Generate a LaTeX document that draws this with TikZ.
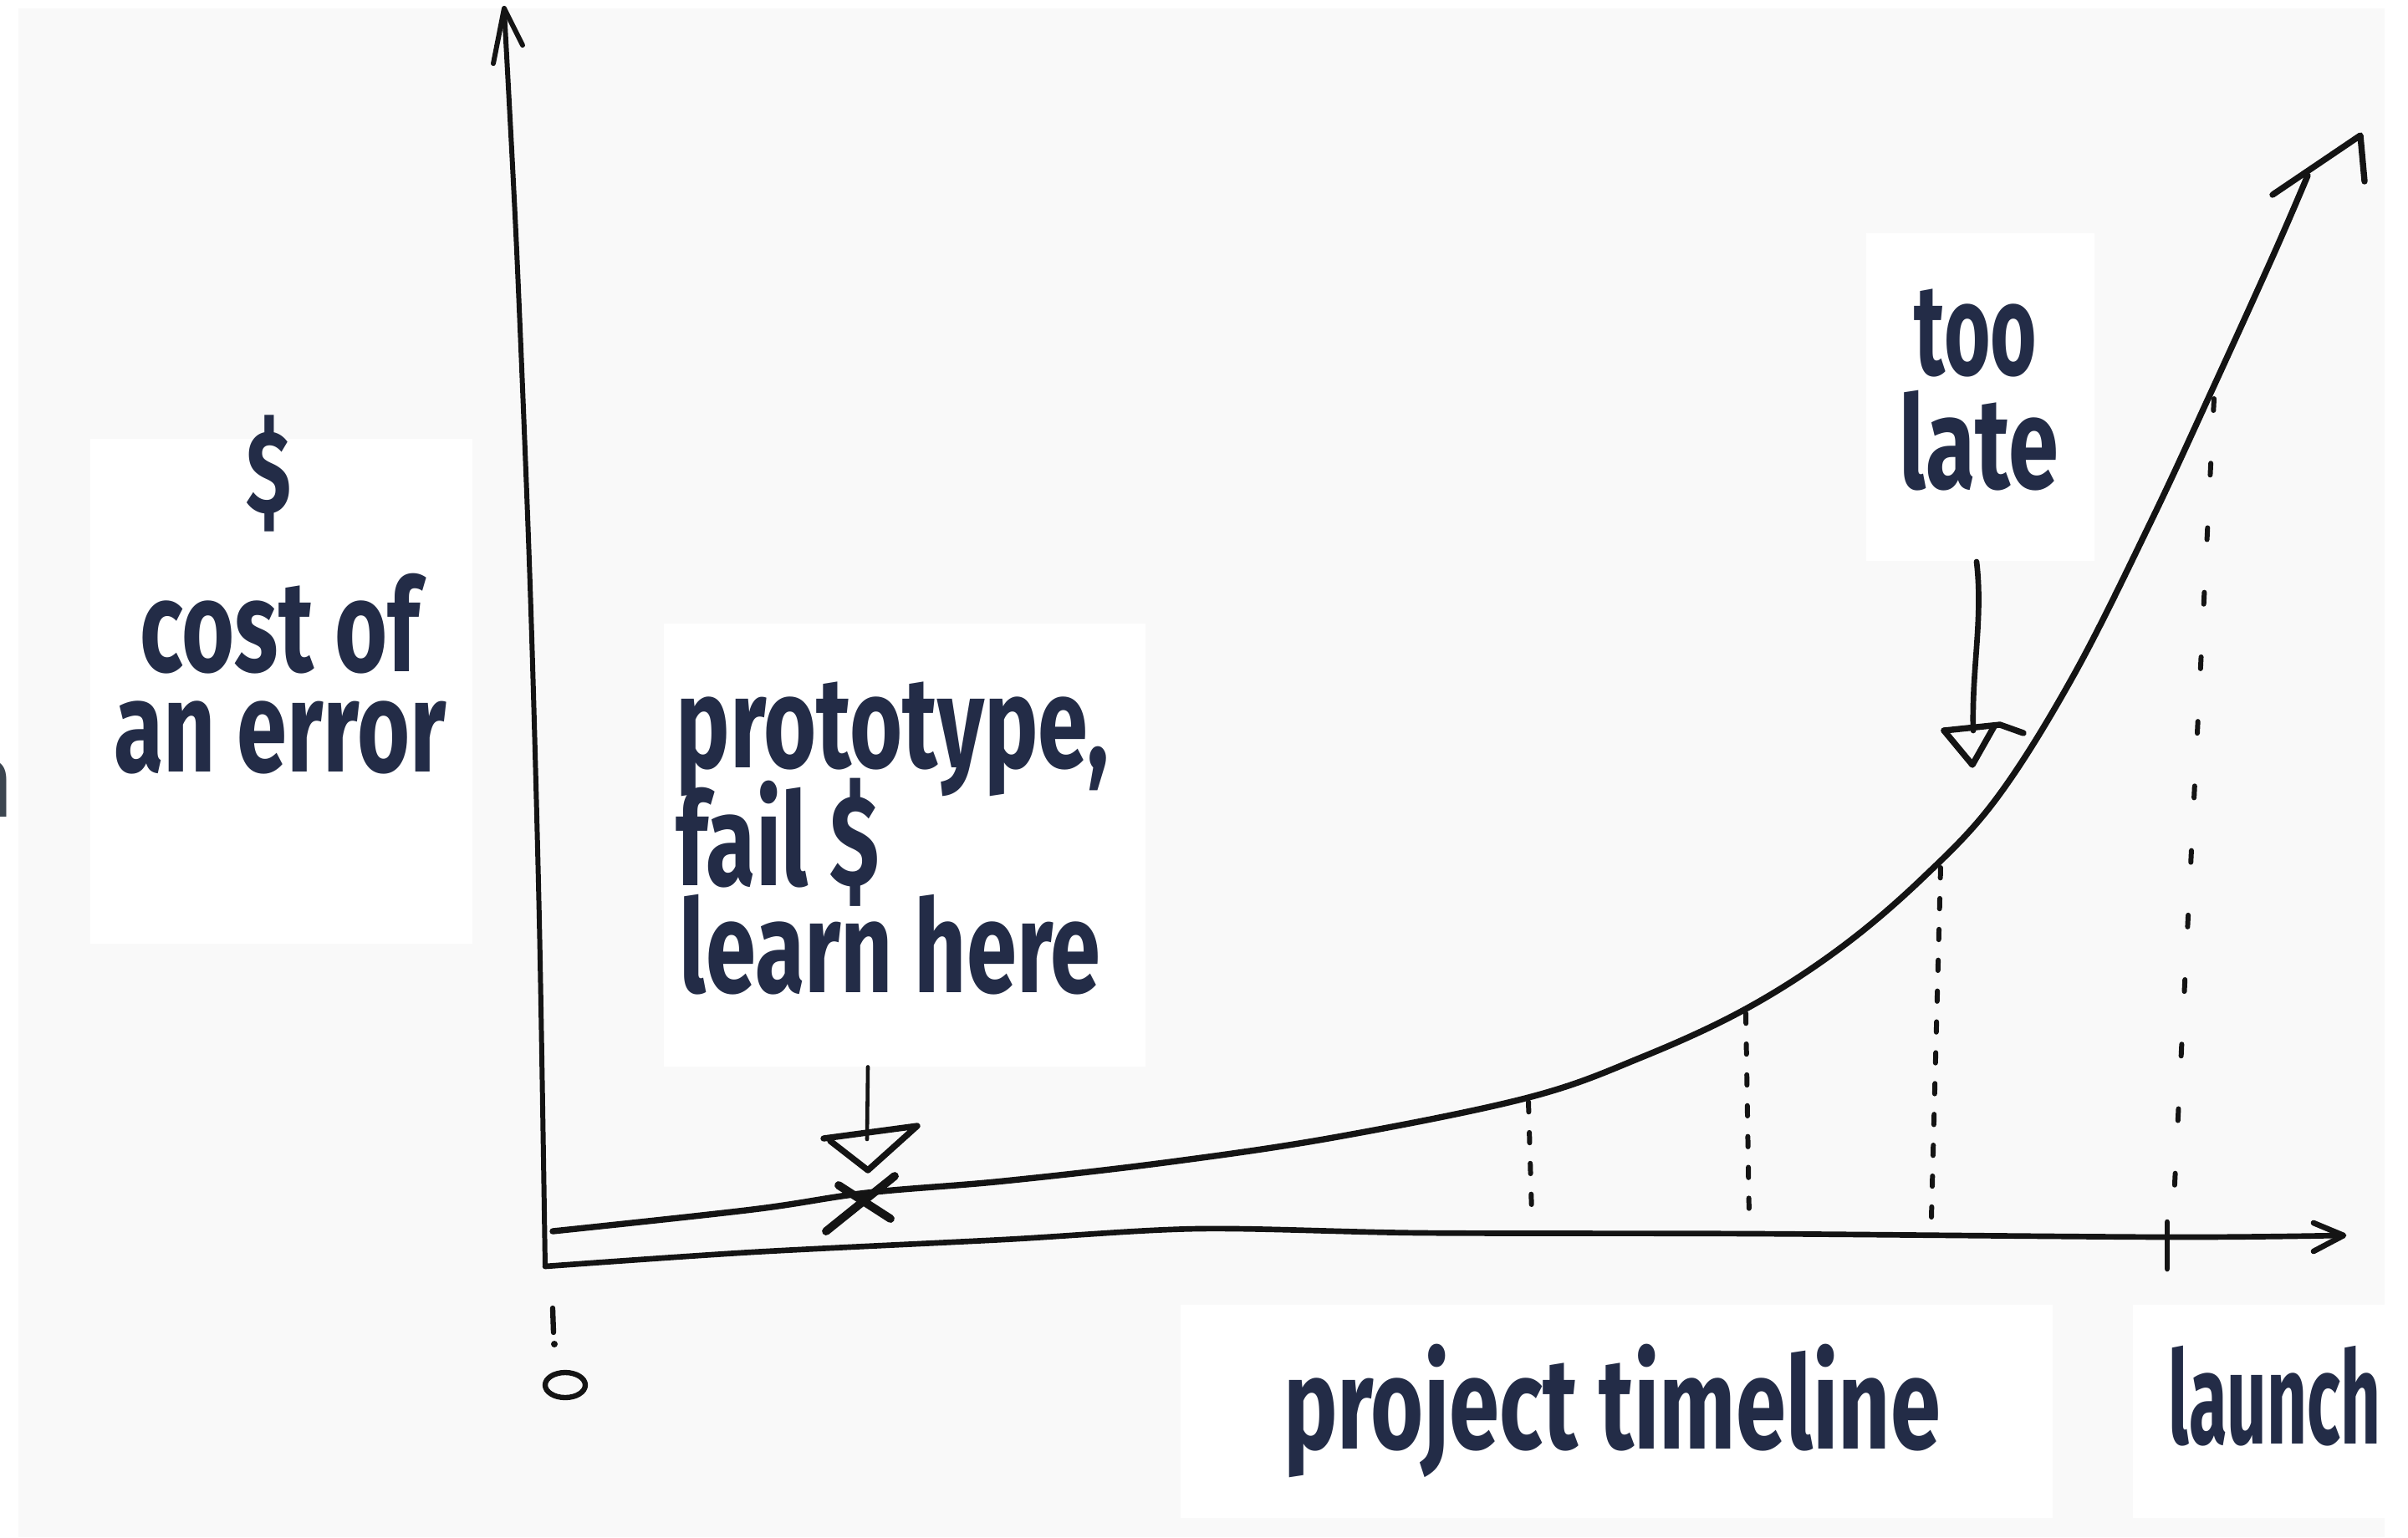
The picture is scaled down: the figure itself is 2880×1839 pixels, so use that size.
\documentclass[tikz,border=0pt]{standalone}
\usepackage{fontspec}
\newfontfamily\hand[FakeStretch=0.7]{Fira Sans}
\newfontfamily\edgefont{Open Sans}
\definecolor{ink}{HTML}{232C47}
\definecolor{pen}{HTML}{141414}
\definecolor{paper}{HTML}{F9F9F9}
\definecolor{slate}{HTML}{3C4650}
\tikzset{
  handtxt/.style={font=\hand\bfseries\fontsize{44}{50}\selectfont, text=ink, inner sep=0pt},
  card/.style={fill=white, draw=none, inner sep=0pt, anchor=north west},
  sketch/.style={draw=pen, line width=2.1pt, line cap=round, line join=round},
  thinpen/.style={draw=pen, line width=1.3pt, line cap=round, line join=round},
  dots/.style={draw=pen, line width=1.7pt, line cap=round, dash pattern=on 3.5pt off 7pt},
  sparsedots/.style={draw=pen, line width=1.7pt, line cap=round, dash pattern=on 4pt off 18pt},
}
\begin{document}
\begin{tikzpicture}[x=0.1mm, y=-0.1mm]
\useasboundingbox (0,0) rectangle (2880,1839);
\fill[white] (0,0) rectangle (2880,1839);
\fill[paper] (22,10) rectangle (2852,1839);

% cut-off letter at the left edge
\node[font=\edgefont\fontsize{36}{40}\selectfont, text=slate, inner sep=0pt, anchor=base east] (edgen) at (19,977) {n};

% white cards
\node[card, minimum width=45.7mm, minimum height=60.4mm] (costbox) at (107,524) {};
\node[card, minimum width=57.6mm, minimum height=53mm] (protobox) at (793,745) {};
\node[card, minimum width=27.3mm, minimum height=39.2mm] (latebox) at (2231,278) {};
\node[card, minimum width=104.3mm, minimum height=25.5mm] (timebox) at (1411,1560) {};
\node[card, minimum width=30.2mm, minimum height=25.5mm] (launchbox) at (2550,1560) {};

% texts
\node[handtxt, anchor=center, font=\hand\bfseries\fontsize{40}{44}\selectfont] (dollar) at (322,566) {\$};
\node[handtxt, anchor=base] (costof) at (335,803) {cost of};
\node[handtxt, anchor=base] (anerror) at (335,923) {an error};
\node[handtxt, anchor=base west] (proto1) at (808,918) {prototype,};
\node[handtxt, anchor=base west] (proto2) at (808,1059) {fail \$};
\node[handtxt, anchor=base west] (proto3) at (812,1187) {learn here};
\node[handtxt, anchor=base] (too) at (2363,448) {\scalebox{0.88}[1]{too}};
\node[handtxt, anchor=base] (late) at (2367,584) {late};
\node[handtxt, anchor=base] (timeline) at (1928,1733) {project timeline};
\node[handtxt, anchor=base west] (launch) at (2593,1727) {\scalebox{0.77}[1]{launch}};

% y axis
\coordinate (ytip) at (603,10);
\coordinate (origin) at (652,1515);
\draw[sketch, line width=1.7pt] plot[smooth] coordinates {(603,12) (618,300) (634,700) (645,1100) (652,1515)};
\draw[sketch, line width=1.7pt] (590,76) -- (ytip) -- (625,54);

% x axis
\coordinate (xtip) at (2803,1478);
\draw[sketch, line width=1.9pt] plot[smooth] coordinates {(652,1515) (900,1498) (1200,1483) (1433,1470) (1700,1475) (2100,1476) (2592,1480) (2800,1478)};
\draw[sketch, line width=1.9pt] (2767,1463) -- (xtip) -- (2767,1497);

% origin label
\draw[thinpen, line width=1.8pt] (661,1565) -- (662,1594);
\fill[pen] (663,1608) circle (4);
\draw[thinpen, line width=1.8pt] (676,1657) ellipse (24 and 15);

% cost curve
\coordinate (ctip) at (2823,162);
\draw[sketch] plot[smooth, tension=0.6] coordinates {(661,1473) (900,1447) (1037,1427) (1200,1413) (1400,1390) (1600,1360) (1828,1313) (1963,1265) (2088,1207) (2200,1135) (2300,1050) (2388,955) (2480,808) (2572,625) (2645,468) (2719,305) (2760,210)};
\draw[sketch] (2718,233) -- (ctip) -- (2828,217);

% dotted drop lines
\draw[dots] (1828,1318) -- (1832,1452);
\draw[dots] (2088,1212) -- (2092,1456);
\draw[dots] (2321,1038) -- (2310,1456);
\draw[sparsedots] (2648,477) -- (2599,1456);
\draw[sketch, line width=1.9pt] (2592,1462) -- (2592,1518);

% prototype arrow and X
\coordinate (ptip) at (1038,1400);
\draw[thinpen] (protobox.south -| ptip) -- (1037,1363);
\draw[sketch] (985,1362) -- (1097,1347) -- (ptip) -- (993,1365);
\draw[sketch, line width=2.8pt] (988,1473) -- (1070,1407);
\draw[sketch, line width=2.8pt] (1003,1418) -- (1065,1458);

% too late arrow
\coordinate (ltip) at (2359,915);
\draw[sketch, line width=1.9pt] (2364,672) .. controls (2372,740) and (2358,800) .. (2360,874);
\draw[sketch] (2325,874) -- (2392,867) -- (2420,877);
\draw[sketch] (2325,874) -- (ltip) -- (2385,869);
\end{tikzpicture}
\end{document}
